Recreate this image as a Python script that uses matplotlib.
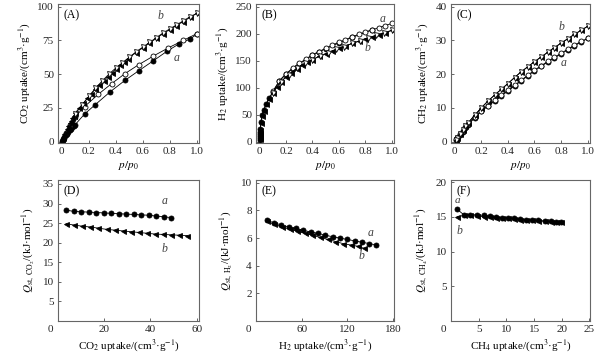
import numpy as np
import matplotlib
matplotlib.use("Agg")
import matplotlib.pyplot as plt

plt.rcParams["font.family"] = ["Liberation Serif", "DejaVu Serif"]
plt.rcParams["mathtext.fontset"] = "stix"
plt.rcParams["font.size"] = 8

# ---------------- data ----------------
# (A) CO2 isotherms
a_co2_ads_x = [0.005, 0.01, 0.015, 0.02, 0.03, 0.04, 0.05, 0.06, 0.07, 0.08, 0.09, 0.10,
               0.17, 0.25, 0.36, 0.47, 0.57, 0.68, 0.78, 0.87, 0.95, 1.0]
a_co2_ads_y = [0.8, 1.6, 2.4, 3.2, 4.6, 6.0, 7.2, 8.4, 9.6, 10.6, 11.6, 12.6,
               20.5, 27.5, 37, 45.5, 52.5, 60, 67, 72.5, 76, 79.5]
a_co2_des_x = [1.0, 0.9, 0.79, 0.68, 0.57, 0.47, 0.37, 0.27, 0.17, 0.1, 0.06, 0.03]
a_co2_des_y = [80, 75, 69.5, 63.5, 57, 50.5, 43, 35, 26, 18.5, 12, 6.5]
b_co2_ads_x = [0.005, 0.01, 0.02, 0.03, 0.04, 0.05, 0.06, 0.07, 0.08, 0.09, 0.10, 0.13,
               0.16, 0.19, 0.22, 0.25, 0.28, 0.31, 0.34, 0.37, 0.40, 0.43, 0.46, 0.49,
               0.55, 0.60, 0.65, 0.70, 0.75, 0.80, 0.85, 0.90, 0.95, 1.0]
b_co2_ads_y = [1.5, 3, 5.5, 7.5, 9.5, 11.5, 13.5, 15.5, 17.5, 19, 21, 25,
               28.5, 32, 35.5, 39, 42, 45, 48, 51, 53.5, 56.5, 59, 61.5,
               66, 69.5, 73, 76.5, 80, 83, 86, 89, 92, 95]
b_co2_des_x = [1.0, 0.95, 0.9, 0.85, 0.8, 0.75, 0.7, 0.65, 0.6, 0.55, 0.5, 0.45,
               0.4, 0.35, 0.3, 0.25, 0.2, 0.15, 0.1]
b_co2_des_y = [95, 92.5, 89.5, 86.5, 83.5, 80.5, 77, 73.5, 70, 66.5, 62.5, 58.5,
               54.5, 50, 45, 39.5, 33.5, 27, 20.5]

# (B) H2 isotherms
a_h2_ads_x = [0.0005, 0.001, 0.002, 0.003, 0.004, 0.006, 0.01, 0.02, 0.03, 0.05, 0.07,
              0.1, 0.15, 0.2, 0.25, 0.3, 0.35, 0.4, 0.45, 0.5, 0.6, 0.7, 0.85]
a_h2_ads_y = [3, 6, 10, 14, 18, 24, 37, 50, 58, 70, 80,
              92, 112, 125, 135, 144, 152, 160, 166, 172, 183, 193, 207]
a_h2_des_x = [1.0, 0.95, 0.9, 0.85, 0.8, 0.75, 0.7, 0.65, 0.6, 0.55, 0.5, 0.45,
              0.4, 0.35, 0.3, 0.25, 0.2, 0.15, 0.1]
a_h2_des_y = [219, 215, 211, 207, 203, 199, 194, 189, 184, 179, 173, 167,
              161, 153, 145, 136, 126, 113, 93]
b_h2_ads_x = [0.0005, 0.001, 0.002, 0.003, 0.005, 0.01, 0.02, 0.03, 0.05, 0.07, 0.1,
              0.13, 0.16, 0.2, 0.24, 0.28, 0.32, 0.36, 0.4, 0.45, 0.5, 0.55, 0.6,
              0.65, 0.7, 0.75, 0.8, 0.85, 0.9, 0.95, 1.0]
b_h2_ads_y = [4, 8, 12, 16, 22, 35, 48, 57, 69, 79, 91,
              101, 110, 120, 128, 135, 142, 147, 152, 158, 163, 168, 173,
              177, 182, 186, 191, 194, 198, 202, 206]
b_h2_des_x = [1.0, 0.94, 0.88, 0.82, 0.76, 0.7, 0.64, 0.58, 0.52, 0.46, 0.4, 0.34,
              0.28, 0.22, 0.16, 0.1]
b_h2_des_y = [206, 202, 197, 192, 187, 182, 176, 171, 165, 159, 152, 145,
              136, 124, 111, 91]

# (C) CH4 isotherms
a_ch4_x = [0.01, 0.02, 0.04, 0.06, 0.08, 0.1, 0.15, 0.2, 0.25, 0.3, 0.35, 0.4, 0.45, 0.5,
           0.55, 0.6, 0.65, 0.7, 0.75, 0.8, 0.85, 0.9, 0.95, 1.0]
a_ch4_y = [0.5, 1, 2, 3, 4, 5, 7, 9, 10.5, 12, 13.5, 15, 16.5, 18,
           19.5, 21, 22.3, 23.6, 24.8, 26, 27.2, 28.4, 29.5, 30.6]
a_ch4_des_y = [0.7, 1.2, 2.2, 3.2, 4.2, 5.2, 7.2, 9.2, 10.7, 12.2, 13.7, 15.2, 16.7, 18.2,
               19.7, 21.2, 22.5, 23.8, 25.0, 26.2, 27.4, 28.6, 29.7, 30.6]
b_ch4_x = [0.01, 0.02, 0.04, 0.06, 0.08, 0.1, 0.15, 0.2, 0.25, 0.3, 0.35, 0.4, 0.45, 0.5,
           0.55, 0.6, 0.65, 0.7, 0.75, 0.8, 0.85, 0.9, 0.95, 1.0]
b_ch4_y = [0.6, 1.2, 2.3, 3.4, 4.5, 5.5, 7.8, 10, 12, 13.8, 15.5, 17.2, 19, 20.7,
           22.2, 23.7, 25.1, 26.5, 27.9, 29.2, 30.5, 31.8, 33, 34.2]

# (D) Qst CO2
a_qco2_x = [3.5, 6.8, 10.0, 13.3, 16.5, 19.8, 23.0, 26.3, 29.5, 32.8, 36.0, 39.3, 42.5, 45.8, 49.0]
a_qco2_y = [28.3, 28.0, 27.9, 27.8, 27.7, 27.6, 27.5, 27.4, 27.3, 27.2, 27.1, 27.0, 26.8, 26.6, 26.4]
b_qco2_x = [3.5, 7.0, 10.5, 14.0, 17.5, 21.0, 24.5, 28.0, 31.5, 35.0, 38.5, 42.0, 45.5, 49.0, 52.5, 56.0]
b_qco2_y = [24.8, 24.5, 24.2, 24.0, 23.7, 23.4, 23.2, 23.0, 22.8, 22.6, 22.4, 22.2, 22.1, 22.0, 21.9, 21.8]

# (E) Qst H2
a_qh2_x = [14, 23.6, 33.2, 42.8, 52.4, 62, 71.6, 81.2, 90.8, 100.4, 110, 119.6, 129.2, 138.8, 148.4, 158]
a_qh2_y = [7.3, 7.1, 6.95, 6.8, 6.7, 6.55, 6.45, 6.35, 6.2, 6.1, 6.0, 5.9, 5.8, 5.7, 5.6, 5.5]
b_qh2_x = [14, 24, 34, 44, 54, 64, 74, 84, 94, 104, 114, 124, 134, 142]
b_qh2_y = [7.2, 7.0, 6.8, 6.65, 6.5, 6.35, 6.2, 6.05, 5.9, 5.75, 5.6, 5.5, 5.4, 5.25]

# (F) Qst CH4
a_qch4_x = [1.1, 2.3, 3.5, 4.7, 5.9, 7.0, 8.1, 9.2, 10.3, 11.4, 12.5, 13.6, 14.7, 15.8, 16.9, 18.0, 19.0, 19.8]
a_qch4_y = [16.1, 15.3, 15.3, 15.3, 15.2, 15.1, 15.0, 14.9, 14.85, 14.8, 14.7, 14.6, 14.55, 14.5, 14.4, 14.35, 14.3, 14.2]
b_qch4_x = [1.1, 2.3, 3.5, 4.7, 5.9, 7.0, 8.1, 9.2, 10.3, 11.4, 12.5, 13.6, 14.7, 15.8, 16.9, 18.0, 19.0, 19.8]
b_qch4_y = [15.0, 15.2, 15.2, 15.1, 15.0, 14.95, 14.9, 14.85, 14.8, 14.7, 14.6, 14.55, 14.5, 14.4, 14.35, 14.3, 14.25, 14.2]

pp_ticks = [0, 0.2, 0.4, 0.6, 0.8, 1.0]
pp_labels = ["0", "0.2", "0.4", "0.6", "0.8", "1.0"]

W, H = 610, 355
fig = plt.figure(figsize=(W / 100, H / 100), dpi=100)


def make_ax(left, right, top, bottom):
    ax = fig.add_axes([left / W, 1 - bottom / H, (right - left) / W, (bottom - top) / H])
    for s in ax.spines.values():
        s.set_color("0.4")
        s.set_linewidth(0.8)
    ax.tick_params(direction="in", length=2.5, width=0.6, color="0.3", pad=3,
                   labelsize=8, labelcolor="0.15", top=False, right=False)
    return ax


def series(ax, x, y, marker, filled, ms=3.6):
    ax.plot(x, y, color="black", linewidth=0.6, marker=marker, markersize=ms,
            markerfacecolor="black" if filled else "white",
            markeredgecolor="black", markeredgewidth=0.6)


def tag(ax, s, x, y, size=8.5):
    ax.text(x, y, s, style="italic", fontsize=size, ha="center", va="center", color="0.25")


def panel_label(ax, s):
    ax.text(0.04, 0.965, s, transform=ax.transAxes, ha="left", va="top", fontsize=8.5)


# ---- top row ----
axA = make_ax(58, 199, 4, 143)
series(axA, a_co2_ads_x, a_co2_ads_y, "o", True)
series(axA, a_co2_des_x, a_co2_des_y, "o", False)
series(axA, b_co2_ads_x, b_co2_ads_y, "<", True)
series(axA, b_co2_des_x, b_co2_des_y, "v", False)
axA.set_xlim(-0.027, 1.017)
axA.set_ylim(-1, 102)
axA.set_yticks([0, 25, 50, 75, 100])
axA.set_ylabel(r"CO$_2$ uptake/(cm$^3$·g$^{-1}$)")
tag(axA, "b", 0.73, 93)
tag(axA, "a", 0.85, 62)
panel_label(axA, "(A)")

axB = make_ax(256, 394, 4, 143)
series(axB, a_h2_ads_x, a_h2_ads_y, "o", True)
series(axB, a_h2_des_x, a_h2_des_y, "o", False)
series(axB, b_h2_ads_x, b_h2_ads_y, "<", True)
series(axB, b_h2_des_x, b_h2_des_y, "v", False)
axB.set_xlim(-0.027, 1.017)
axB.set_ylim(-2.5, 255)
axB.set_yticks([0, 50, 100, 150, 200, 250])
axB.set_ylabel(r"H$_2$ uptake/(cm$^3$·g$^{-1}$)")
tag(axB, "a", 0.93, 228)
tag(axB, "b", 0.82, 174)
panel_label(axB, "(B)")

axC = make_ax(451, 590, 4, 143)
series(axC, a_ch4_x, a_ch4_y, "o", True)
series(axC, a_ch4_x[::-1], a_ch4_des_y[::-1], "o", False)
series(axC, b_ch4_x, b_ch4_y, "<", True)
series(axC, b_ch4_x[::-1], b_ch4_y[::-1], "v", False)
axC.set_xlim(-0.027, 1.017)
axC.set_ylim(-0.4, 40.8)
axC.set_yticks([0, 10, 20, 30, 40])
axC.set_ylabel(r"CH$_2$ uptake/(cm$^3$·g$^{-1}$)")
tag(axC, "b", 0.80, 34)
tag(axC, "a", 0.82, 23.2)
panel_label(axC, "(C)")

for ax in (axA, axB, axC):
    ax.set_xticks(pp_ticks)
    ax.set_xticklabels(pp_labels)
    ax.set_xlabel(r"$p/p_0$", labelpad=2)

# ---- bottom row ----
axD = make_ax(58, 199, 180, 321)
series(axD, a_qco2_x, a_qco2_y, "o", True)
series(axD, b_qco2_x, b_qco2_y, "<", True)
axD.set_xlim(0, 61)
axD.set_ylim(0, 36)
axD.set_xticks([20, 40, 60])
axD.set_yticks([5, 10, 15, 20, 25, 30, 35])
axD.set_xlabel(r"CO$_2$ uptake/(cm$^3$·g$^{-1}$)", labelpad=2)
axD.set_ylabel(r"$Q_{\mathrm{st},\ \mathrm{CO}_2}$/(kJ·mol$^{-1}$)")
tag(axD, "a", 46, 30.7)
tag(axD, "b", 46, 18.5)
panel_label(axD, "(D)")

axE = make_ax(256, 394, 180, 321)
series(axE, a_qh2_x, a_qh2_y, "o", True)
series(axE, b_qh2_x, b_qh2_y, "<", True)
axE.set_xlim(0, 181)
axE.set_ylim(0, 10.2)
axE.set_xticks([60, 120, 180])
axE.set_yticks([2, 4, 6, 8, 10])
axE.set_xlabel(r"H$_2$ uptake/(cm$^3$·g$^{-1}$)", labelpad=2)
axE.set_ylabel(r"$Q_{\mathrm{st},\ \mathrm{H}_2}$/(kJ·mol$^{-1}$)")
tag(axE, "a", 150, 6.4)
tag(axE, "b", 139, 4.7)
panel_label(axE, "(E)")

axF = make_ax(451, 590, 180, 321)
series(axF, a_qch4_x, a_qch4_y, "o", True)
series(axF, b_qch4_x, b_qch4_y, "<", True)
axF.set_xlim(0, 25.1)
axF.set_ylim(0, 20.3)
axF.set_xticks([5, 10, 15, 20, 25])
axF.set_yticks([5, 10, 15, 20])
axF.set_xlabel(r"CH$_4$ uptake/(cm$^3$·g$^{-1}$)", labelpad=2)
axF.set_ylabel(r"$Q_{\mathrm{st},\ \mathrm{CH}_4}$/(kJ·mol$^{-1}$)")
tag(axF, "a", 1.1, 17.3, size=8)
tag(axF, "b", 1.6, 13.0)
panel_label(axF, "(F)")

for ax in (axD, axE, axF):
    ax.annotate("0", xy=(0, 0), xycoords="axes fraction", xytext=(-8, -8),
                textcoords="offset pixels", ha="center", va="center", fontsize=8,
                color="0.15")

fig.savefig("out.png", dpi=100)
